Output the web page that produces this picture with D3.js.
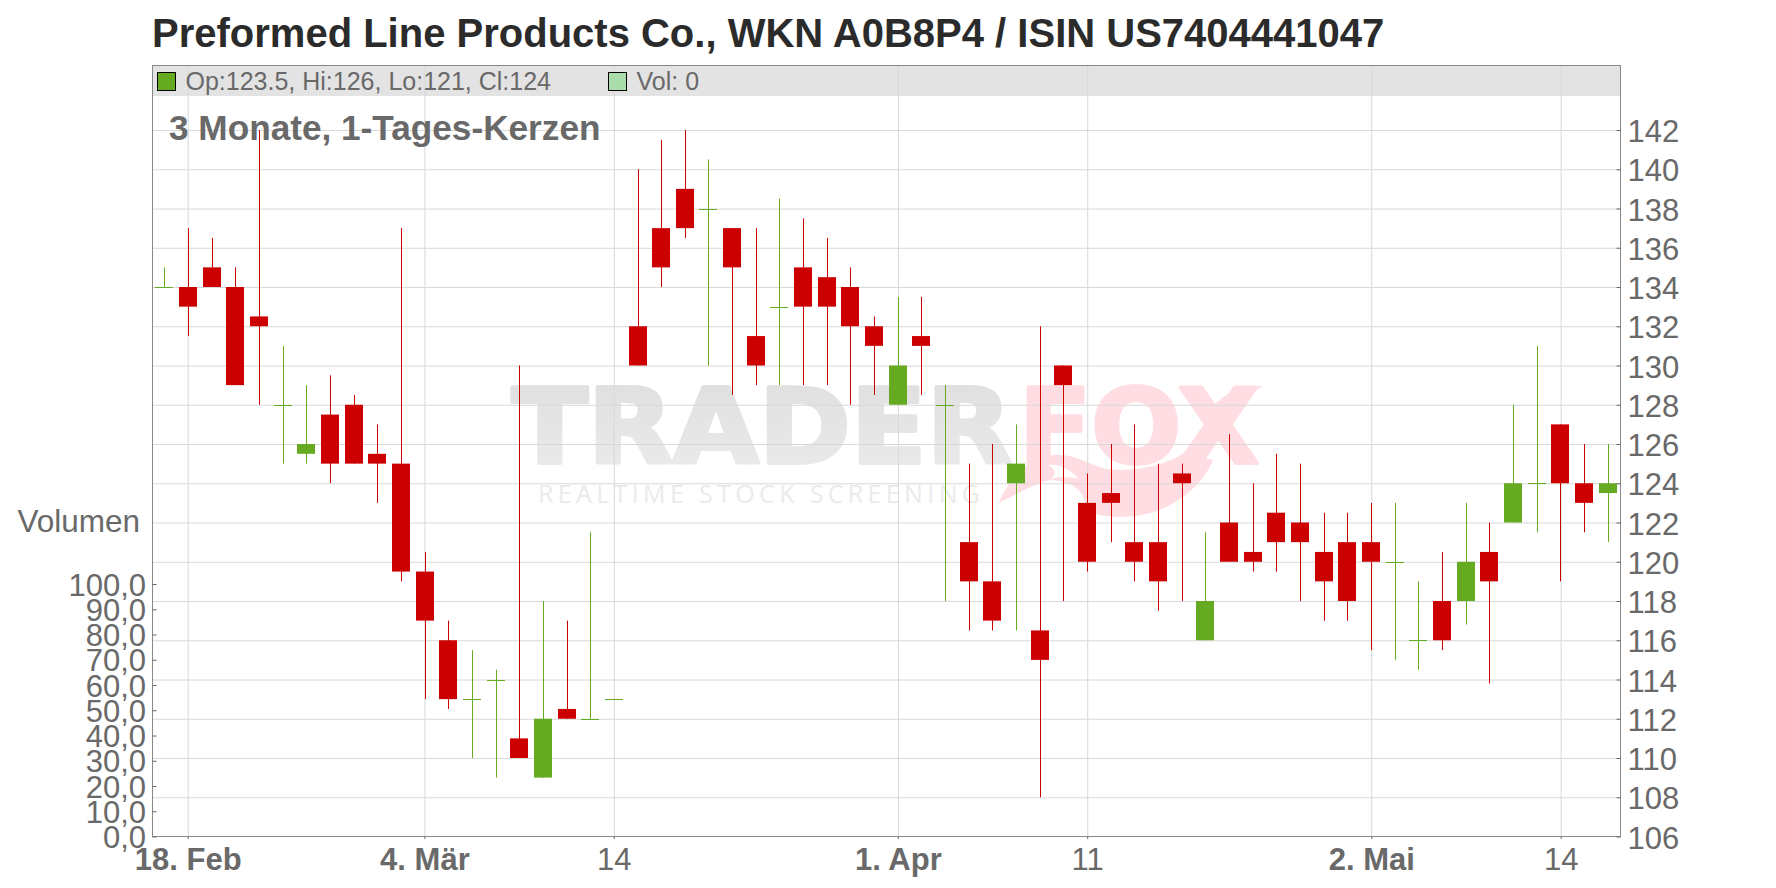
<!DOCTYPE html>
<html><head><meta charset="utf-8">
<style>html,body{margin:0;padding:0;background:#fff}svg{display:block}text{font-family:"Liberation Sans",Arial,sans-serif}</style>
<script src="https://cdn.jsdelivr.net/npm/d3@7/dist/d3.min.js"></script>
</head><body><svg id="c" width="1776" height="888"></svg>
<script>
const opens =[134,134,135,134,132.5,128,125.5,127.5,128,125.5,125,119.5,116,113,114,111,109,112.5,112,113,132,137,139,138,137,131.5,133,135,134.5,134,132,128,131.5,128,121,119,124,116.5,130,123,123.5,121,121,124.5,116,122,120.5,122.5,122,120.5,121,121,120,116,118,118,120.5,122,124,127,124,123.5];
const closes=[134,133,134,129,132,128,126,125,125,125,119.5,117,113,113,114,110,112,112,112,113,130,135,137,138,135,130,133,133,133,132,131,130,131,128,119,117,125,115,129,120,123,120,119,124,118,120,120,121,121,119,118,120,120,116,116,120,119,124,124,124,123,124];
const highs =[135,137,136.5,135,142,131,129,129.5,128.5,127,137,120.5,117,115.5,114.5,130,118,117,121.5,113,140,141.5,142,140.5,137,137,138.5,137.5,136.5,135,132.5,133.5,133.5,129,125,126,127,132,130,124.5,126,127,125,125,121.5,126.5,124,125.5,125,122.5,122.5,123,123,119,120.5,123,122,128,131,127,126,126];
const lows  =[134,131.5,134,129,128,125,125,124,125,123,119,113,112.5,110,109,110,109,112,112,113,130,134,136.5,130,128.5,129,129,129,129,128,128.5,128,128.5,118,116.5,116.5,116.5,108,118,119.5,121,119,117.5,118,116,120,119.5,119.5,118,117,117,115.5,115,114.5,115.5,116.8,113.8,122,121.5,119,121.5,121];
const priceTicks=d3.range(106,143,2);
const volumeTicks=d3.range(0,101,10);
const dateIndex=[1,11,19,31,39,51,59];
const dateLabels=["18. Feb","4. Mär","14","1. Apr","11","2. Mai","14"];
const dateBold=[1,1,0,1,0,1,0];
const titleText="Preformed Line Products Co., WKN A0B8P4 / ISIN US7404441047";
const subtitleText="3 Monate, 1-Tages-Kerzen";
const legendText="Op:123.5, Hi:126, Lo:121, Cl:124";
const volumeLegend="Vol: 0";

const L=152.5,R=1620.5,T=65.5,B=836.5;
const UP="#66aa22",DOWN="#cc0000",GRID="#d8d8d8",TXT="#696969",BORDER="#888888";
const FS=31;
const svg=d3.select("#c");
const x=d3.scaleLinear().domain([0,61]).range([164.3,1607.6]);
const y=d3.scaleLinear().domain([106,142]).range([B,130]);
const v=d3.scaleLinear().domain([0,100]).range([B,584]);
const px=i=>Math.round(x(i));

svg.append("text").attr("x",152).attr("y",47).attr("font-size",40).attr("font-weight","bold").attr("fill","#2b2b2b").text(titleText);

// legend band
svg.append("rect").attr("x",L).attr("y",T).attr("width",R-L).attr("height",30.5).attr("fill","#e3e3e3");

// watermark
const defs=svg.append("defs");
const g=defs.append("linearGradient").attr("id","wm").attr("x1",0).attr("y1",0).attr("x2",0).attr("y2",1);
g.append("stop").attr("offset",0).attr("stop-color","#dedede");
g.append("stop").attr("offset",1).attr("stop-color","#ececec");
const wm=svg.append("g");
wm.append("text").attr("x",512).attr("y",463).attr("font-size",103).attr("font-weight","bold")
  .style("font-family","DejaVu Sans").attr("textLength",500).attr("lengthAdjust","spacingAndGlyphs")
  .attr("fill","url(#wm)").attr("stroke","url(#wm)").attr("stroke-width",4).attr("stroke-linejoin","round").text("TRADER");
wm.append("text").attr("x",1019).attr("y",463).attr("font-size",103).attr("font-weight","bold")
  .style("font-family","DejaVu Sans").attr("textLength",240).attr("lengthAdjust","spacingAndGlyphs")
  .attr("fill","#ffdde2").attr("stroke","#ffdde2").attr("stroke-width",4).attr("stroke-linejoin","round").text("FOX");
const sw=wm.append("g").attr("transform","translate(930,370) scale(0.3333)");
sw.append("path").attr("fill","#ffdde2").attr("d","M205,400 C240,320 300,260 370,255 C430,250 470,280 520,295 C600,310 700,290 760,250 L850,270 C820,340 740,420 620,438 C540,445 490,435 470,420 C465,370 440,335 360,330 C310,340 260,375 205,400Z");
sw.append("path").attr("fill","#ffffff").attr("d","M355,285 C390,280 420,300 445,325 C410,322 385,315 360,330 C375,315 385,305 355,285Z");
sw.append("path").attr("fill","#ffdde2").attr("d","M850,110 C880,70 930,50 1000,48 C950,70 900,120 870,170Z");
wm.append("text").attr("x",538).attr("y",503).attr("font-size",25).attr("fill","#ebebeb")
  .style("font-family","Open Sans").attr("textLength",442).attr("lengthAdjust","spacing").text("REALTIME STOCK SCREENING");

// grid
svg.append("g").attr("transform",`translate(${L},0)`)
  .call(d3.axisRight(y).tickValues(priceTicks.filter(d=>d>106)).tickSize(R-L).tickFormat(""))
  .call(s=>s.select(".domain").remove()).selectAll("line").attr("stroke",GRID);
svg.append("g").attr("transform",`translate(0,${T})`)
  .call(d3.axisBottom(d3.scaleLinear().domain(x.domain()).range(x.range().map(Math.round))).tickValues(dateIndex).tickSize(B-T).tickFormat(""))
  .call(s=>s.select(".domain").remove()).selectAll("line").attr("stroke",GRID);

// candles
const idx=d3.range(opens.length);
const cand=svg.append("g");
cand.selectAll("line.w").data(idx).join("line").attr("class","w")
  .attr("x1",i=>px(i)+.5).attr("x2",i=>px(i)+.5)
  .attr("y1",i=>y(highs[i])).attr("y2",i=>y(lows[i]))
  .attr("stroke",i=>closes[i]>=opens[i]?UP:DOWN);
cand.selectAll("rect").data(idx.filter(i=>opens[i]!==closes[i])).join("rect")
  .attr("x",i=>px(i)-9).attr("width",18)
  .attr("y",i=>y(Math.max(opens[i],closes[i]))).attr("height",i=>Math.abs(y(opens[i])-y(closes[i])))
  .attr("fill",i=>closes[i]>opens[i]?UP:DOWN);
cand.selectAll("line.d").data(idx.filter(i=>opens[i]===closes[i])).join("line").attr("class","d")
  .attr("x1",i=>px(i)-9).attr("x2",i=>px(i)+9)
  .attr("y1",i=>Math.round(y(opens[i]))+.5).attr("y2",i=>Math.round(y(opens[i]))+.5)
  .attr("stroke",UP);

// border
svg.append("rect").attr("x",L).attr("y",T).attr("width",R-L).attr("height",B-T).attr("fill","none").attr("stroke",BORDER);

// price axis
const ax=svg.append("g").attr("transform",`translate(${R},0)`)
  .call(d3.axisRight(y).tickValues(priceTicks).tickSize(-4).tickPadding(12).tickFormat(d3.format("d")));
ax.select(".domain").remove();
ax.selectAll("line").attr("stroke","#666");
ax.selectAll("text").attr("font-size",FS).attr("fill",TXT).attr("text-anchor","start").attr("x",7).attr("dy",null).attr("y",11.5);

// volume axis
const av=svg.append("g").attr("transform",`translate(${L},0)`)
  .call(d3.axisLeft(v).tickValues(volumeTicks).tickSize(-4).tickFormat(d=>d.toFixed(1).replace(".",",")));
av.select(".domain").remove();
av.selectAll("line").attr("stroke","#666");
av.selectAll("text").attr("font-size",FS).attr("fill",TXT).attr("text-anchor","end").attr("x",-6.5).attr("dy",null).attr("y",11);
svg.append("text").attr("x",140).attr("y",532).attr("text-anchor","end").attr("font-size",31.5).attr("fill",TXT).text("Volumen");

// date axis
const dateScale=d3.scaleLinear().domain(x.domain()).range(x.range().map(Math.round));
const ad=svg.append("g").attr("transform",`translate(0,${B})`)
  .call(d3.axisBottom(dateScale).tickValues(dateIndex).tickSize(2.5).tickFormat((d,i)=>dateLabels[i]));
ad.select(".domain").remove();
ad.selectAll("line").attr("stroke","#666");
ad.selectAll("text").attr("font-size",FS).attr("fill",TXT).attr("dy",null).attr("y",33)
  .attr("font-weight",(d,i)=>dateBold[i]?"bold":"normal");

// legend
svg.append("rect").attr("x",157.5).attr("y",72.5).attr("width",18).attr("height",18).attr("fill",UP).attr("stroke","#000");
svg.append("text").attr("x",185.5).attr("y",90).attr("font-size",25).attr("fill",TXT).text(legendText);
svg.append("rect").attr("x",608.5).attr("y",72.5).attr("width",18).attr("height",18).attr("fill","#aaddaa").attr("stroke","#000");
svg.append("text").attr("x",636.5).attr("y",90).attr("font-size",25).attr("fill",TXT).text(volumeLegend);
svg.append("text").attr("x",169).attr("y",140).attr("font-size",35.2).attr("font-weight","bold").attr("fill",TXT).text(subtitleText);
</script></body></html>
